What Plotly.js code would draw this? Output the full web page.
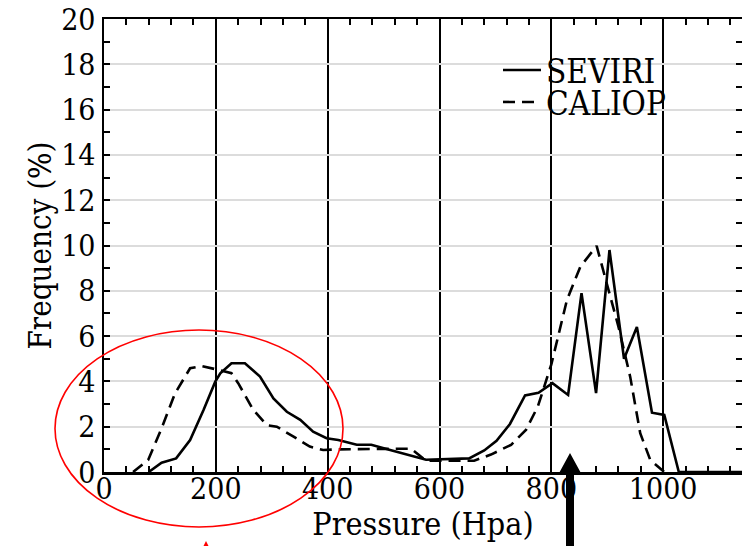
<!DOCTYPE html>
<html>
<head>
<meta charset="utf-8">
<script src="https://cdn.plot.ly/plotly-3.0.1.min.js"></script>
<style>html,body{margin:0;padding:0;background:#fff}#chart{width:742px;height:546px}</style>
</head>
<body>
<div id="chart"></div>
<script>
// Data
const seviriPressure = [80, 103, 129, 154, 178, 199, 208, 228, 252, 279, 303, 327, 351, 374, 398, 419, 452, 478, 515, 555, 576, 653, 680, 702, 726, 753, 777, 802, 830, 854, 880, 904, 930, 953, 980, 1002, 1028, 1141];
const seviriFreq     = [0, 0.41, 0.6, 1.41, 2.74, 3.99, 4.36, 4.8, 4.8, 4.21, 3.25, 2.66, 2.3, 1.78, 1.49, 1.41, 1.2, 1.2, 0.95, 0.69, 0.54, 0.6, 0.95, 1.38, 2.12, 3.38, 3.5, 3.92, 3.4, 7.9, 3.48, 9.8, 5.0, 6.4, 2.62, 2.52, 0, 0];
const caliopPressure = [52, 79, 103, 127, 154, 175, 201, 228, 240, 267, 291, 309, 339, 368, 392, 420, 549, 576, 662, 692, 728, 755, 776, 800, 828, 852, 881, 902, 920, 941, 959, 977, 998, 1002];
const caliopFreq     = [0, 0.53, 1.93, 3.47, 4.58, 4.68, 4.53, 4.36, 3.92, 2.74, 2.07, 2.0, 1.56, 1.12, 0.97, 1.0, 1.03, 0.5, 0.5, 0.77, 1.2, 1.87, 2.9, 4.75, 7.6, 9.07, 9.98, 8.03, 6.42, 4.21, 1.71, 0.53, 0.12, 0];
const seriesNames = ['SEVIRI', 'CALIOP'];
const xTitle = 'Pressure (Hpa)';
const yTitle = 'Frequency (%)';

const FONT = 'DejaVu Serif Condensed, DejaVu Serif';

const traces = [
  {x: seviriPressure, y: seviriFreq, name: seriesNames[0], mode: 'lines', legend: 'legend',
   line: {color: '#000', width: 2.6, dash: 'solid'}},
  {x: caliopPressure, y: caliopFreq, name: seriesNames[1], mode: 'lines', legend: 'legend2',
   line: {color: '#000', width: 2.6, dash: '12px,7px'}}
];

// plot area in px: left 104, right 742, top 19, bottom 472
const L = 104, R = 742, T = 19, B = 472;
const px = v => (v - L) / (R - L);
const py = v => (B - v) / (B - T);

const legendCommon = {
  font: {family: FONT, size: 33, color: '#000'},
  bgcolor: 'rgba(0,0,0,0)', borderwidth: 0,
  xanchor: 'left', yanchor: 'middle', itemwidth: 38
};

const layout = {
  width: 742, height: 546,
  margin: {l: L, r: 742 - R, t: T, b: 546 - B, pad: 0},
  paper_bgcolor: '#fff', plot_bgcolor: '#fff',
  font: {family: FONT, size: 30, color: '#000'},
  showlegend: true,
  legend: Object.assign({x: px(498), y: py(70)}, legendCommon),
  legend2: Object.assign({x: px(498), y: py(102)}, legendCommon),
  xaxis: {
    range: [0, 1141], tick0: 0, dtick: 200,
    showgrid: true, gridcolor: '#000', gridwidth: 2,
    zeroline: false, showline: true, linecolor: '#000', linewidth: 2.5,
    mirror: 'ticks', ticks: 'inside', ticklen: 6, tickwidth: 2, tickcolor: '#000',
    minor: {dtick: 40, tick0: 0, ticks: 'inside', ticklen: 6, tickwidth: 2, tickcolor: '#000', showgrid: false},
    tickfont: {family: FONT, size: 30, color: '#000'},
    ticklabelstandoff: -12, ticklabeloverflow: 'allow',
    title: {text: xTitle, font: {family: FONT, size: 32, color: '#000'}, standoff: 0},
    automargin: false
  },
  yaxis: {
    range: [0, 20], tick0: 0, dtick: 2,
    showgrid: true, gridcolor: '#dcdcdc', gridwidth: 2,
    zeroline: false, showline: true, linecolor: '#000', linewidth: 2.5,
    mirror: 'ticks', ticks: 'inside', ticklen: 6, tickwidth: 2, tickcolor: '#000',
    minor: {dtick: 1, tick0: 0, ticks: 'inside', ticklen: 6, tickwidth: 2, tickcolor: '#000', showgrid: false},
    tickfont: {family: FONT, size: 30, color: '#000'},
    ticklabeloverflow: 'allow',
    title: {text: yTitle, font: {family: FONT, size: 31, color: '#000'}, standoff: 1},
    automargin: false
  },
  shapes: [
    {type: 'circle', xref: 'paper', yref: 'paper', layer: 'above',
     x0: px(55), x1: px(343), y0: py(527), y1: py(330),
     line: {color: '#ff0000', width: 1.6}, fillcolor: 'rgba(0,0,0,0)'},
    {type: 'path', xref: 'paper', yref: 'paper', layer: 'above',
     path: 'M' + px(566) + ',' + py(546) + ' L' + px(566) + ',' + py(474) + ' L' + px(558) + ',' + py(475) +
           ' L' + px(570) + ',' + py(453) + ' L' + px(582) + ',' + py(475) + ' L' + px(574) + ',' + py(474) +
           ' L' + px(574) + ',' + py(546) + ' Z',
     fillcolor: '#000', line: {color: '#000', width: 0}},
    {type: 'path', xref: 'paper', yref: 'paper', layer: 'above',
     path: 'M' + px(203) + ',' + py(547) + ' L' + px(206) + ',' + py(541) + ' L' + px(209) + ',' + py(547) + ' Z',
     fillcolor: '#ff0000', line: {color: '#ff0000', width: 0}}
  ]
};

Plotly.newPlot('chart', traces, layout, {displayModeBar: false, staticPlot: true});
</script>
</body>
</html>
